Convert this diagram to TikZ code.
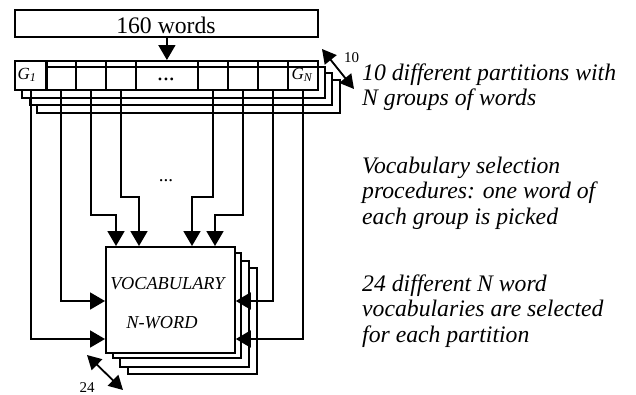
\documentclass[tikz,border=0pt]{standalone}
\usepackage{fontspec}
\setmainfont{Liberation Serif}
\usetikzlibrary{arrows.meta}
\begin{document}
\begin{tikzpicture}[x=1bp,y=-1bp,
  ln/.style={line width=1.8bp},
  arr/.style={ln,-{Triangle[length=15bp,width=17bp]}},
  darr/.style={ln,{Triangle[length=14bp,width=15bp]}-{Triangle[length=14bp,width=15bp]}},
  cell/.style={draw,ln,minimum height=29bp,inner sep=0pt,anchor=north west},
  layer/.style={draw,ln,fill=white},
  bigtxt/.style={font=\fontsize{23.7bp}{26bp}\selectfont,inner sep=0pt,anchor=base},
  side/.style={font=\fontsize{23.7bp}{26bp}\selectfont\itshape,anchor=base west,inner sep=0pt},
  voc/.style={font=\fontsize{18.3bp}{20bp}\selectfont\itshape,anchor=base,inner sep=0pt},
  smalltxt/.style={font=\fontsize{15bp}{17bp}\selectfont,inner sep=0pt,anchor=base},
  gtxt/.style={font=\fontsize{17bp}{19bp}\selectfont\itshape,inner sep=0pt,anchor=base},
]
\useasboundingbox (0,0) rectangle (636,394);

% top box
\node[draw,ln,minimum width=303bp,minimum height=27bp,inner sep=0pt,anchor=north west] (words) at (14,9) {};
\node[bigtxt] (wordstxt) at (166,33) {160 words};

% stacked partition layers
\draw[layer] (37,80) rectangle (340,113);
\draw[layer] (30,73) rectangle (332,105);
\draw[layer] (22,67) rectangle (325,98);

% cells
\node[cell,fill=white,minimum width=32bp] (c1) at (14,60) {};
\node[cell,minimum width=30bp] (c2) at (45,60) {};
\node[cell,minimum width=30bp] (c3) at (75,60) {};
\node[cell,minimum width=30bp] (c4) at (105,60) {};
\node[cell,minimum width=62bp] (c5) at (135,60) {};
\node[cell,minimum width=30bp] (c6) at (197,60) {};
\node[cell,minimum width=30bp] (c7) at (227,60) {};
\node[cell,minimum width=30bp] (c8) at (257,60) {};
\node[cell,minimum width=30bp] (c9) at (287,60) {};
\node[gtxt] (g1) at (27,79) {G\textsubscript{1}};
\node[gtxt] (gn) at (302,79) {G\textsubscript{N}};
\node[bigtxt] (cdots) at (166,80) {...};

\draw[arr] (words.south -| c5.north) -- (c5.north);

% vocabulary stack
\draw[layer] (128,268) rectangle (257,374);
\draw[layer] (120,261) rectangle (249,367);
\draw[layer] (113,253) rectangle (241,358);
\node[draw,ln,fill=white,minimum width=129bp,minimum height=106bp,inner sep=0pt,anchor=north west] (vocab) at (105,246) {};
\node[voc] (v1) at (167.5,289) {VOCABULARY};
\node[voc] (v2) at (162,328) {N-WORD};

\node[font=\fontsize{19bp}{21bp}\selectfont,inner sep=0pt,anchor=base] (mdots) at (166,181) {...};

% connectors
\draw[arr] (c1.south) |- (vocab.west |- 0,339);
\draw[arr] (c2.south) |- (vocab.west |- 0,301);
\draw[arr] (c3.south) |- (116,215) -- (vocab.north -| 116,0);
\draw[arr] (c4.south) |- (139,197) -- (vocab.north -| 139,0);
\draw[arr] (c6.south) |- (192,197) -- (vocab.north -| 192,0);
\draw[arr] (c7.south) |- (215,215) -- (vocab.north -| 215,0);
\draw[arr] (c8.south) |- (vocab.east |- 0,301);
\draw[arr] (c9.south) |- (vocab.east |- 0,339);

% multiplicity arrows
\coordinate (pa) at (322,49);
\coordinate (pb) at (354,89);
\draw[darr] (pa) -- (pb);
\node[smalltxt,anchor=base west] (ten) at (344,62) {10};
\coordinate (qa) at (87,355);
\coordinate (qb) at (123,390);
\draw[darr] (qa) -- (qb);
\node[smalltxt] (tf) at (87,392) {24};

% side texts
\node[side] (t1) at (362,80) {10 different partitions with};
\node[side] (t2) at (362,105.5) {N groups of words};
\node[side] (t3) at (362,173) {Vocabulary selection};
\node[side] (t4) at (362,198.5) {procedures: one word of};
\node[side] (t5) at (362,224) {each group is picked};
\node[side] (t6) at (362,291) {24 different N word};
\node[side] (t7) at (362,316.5) {vocabularies are selected};
\node[side] (t8) at (362,342) {for each partition};
\end{tikzpicture}
\end{document}
